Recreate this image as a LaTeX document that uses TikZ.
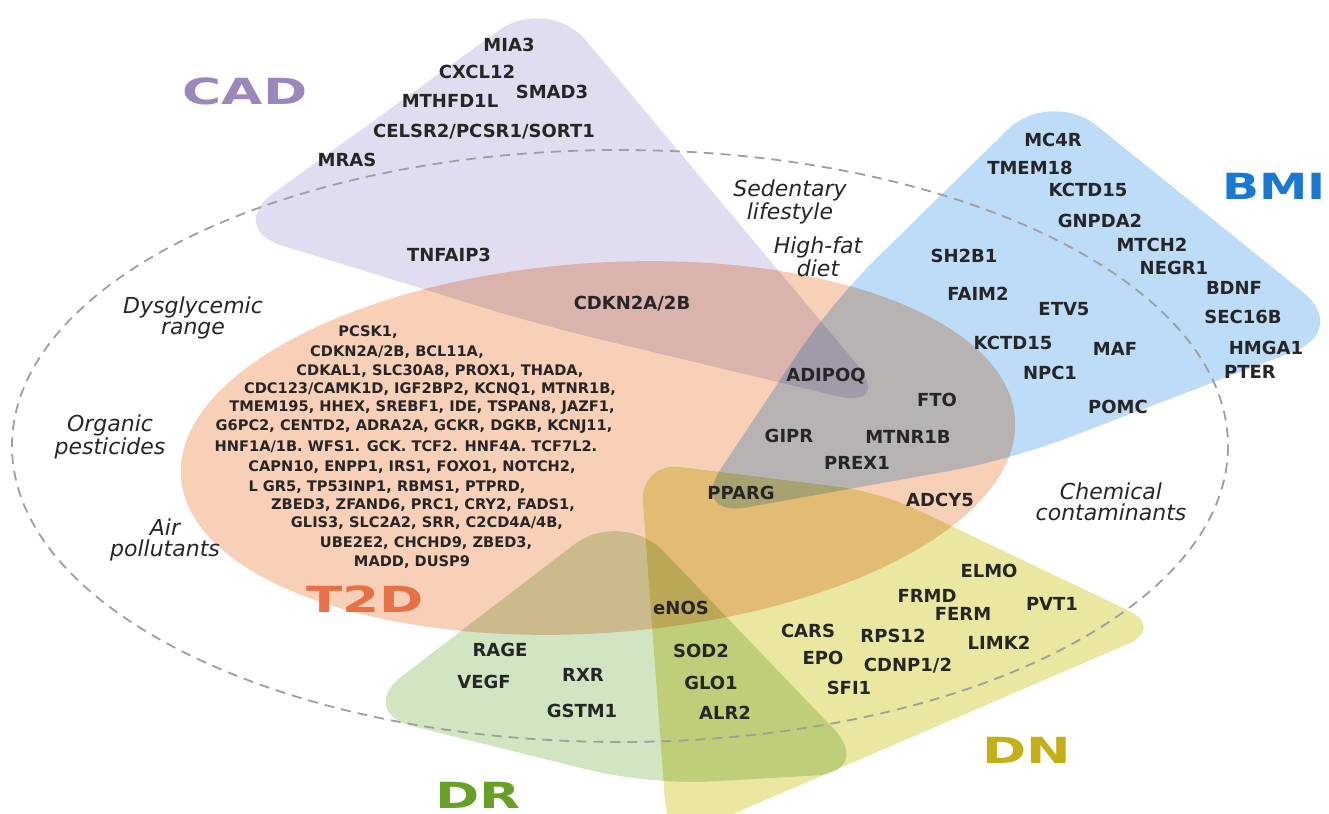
\documentclass[tikz,border=0pt]{standalone}
\usepackage{fontspec}
\setmainfont{DejaVu Sans}
\usepackage{graphicx}

\definecolor{cadfill}{RGB}{226,220,241}
\definecolor{bmifill}{RGB}{188,220,247}
\definecolor{t2dfill}{RGB}{248,208,184}
\definecolor{dnfill}{RGB}{234,231,160}
\definecolor{drfill}{RGB}{209,229,194}
\definecolor{cadtext}{RGB}{155,135,188}
\definecolor{bmitext}{RGB}{25,120,210}
\definecolor{t2dtext}{RGB}{232,112,70}
\definecolor{dntext}{RGB}{196,176,22}
\definecolor{drtext}{RGB}{102,160,38}

\newcommand{\wide}[1]{\scalebox{1.48}[1]{#1}}

\begin{document}
\begin{tikzpicture}[x=0.5pt,y=-0.5pt,
    gene/.style={font=\bfseries\fontsize{9}{10}\selectfont, text=black!85, inner sep=0pt},
    genelist/.style={font=\bfseries\fontsize{7.3}{9}\selectfont, text=black!85, inner sep=0pt},
    factor/.style={font=\itshape\fontsize{11}{10.5}\selectfont, align=center, text=black!85, inner sep=0pt},
    disease/.style={font=\bfseries\fontsize{18}{18}\selectfont, inner sep=0pt},
    boundary/.style={dash pattern=on 5pt off 3.5pt, line width=0.9pt, gray!75}]

  \useasboundingbox (0,0) rectangle (1329,814);

  % the five disease regions
  \begin{scope}[blend group=multiply]
    \fill[cadfill, rounded corners=30pt] (540,325) -- (895,410) -- (548,-5) -- (225,228) -- cycle;
    \fill[bmifill, rounded corners=30pt] (1010,460) -- (688,518) -- (832,302) -- (1050,88) -- (1350,330) -- cycle;
    \fill[t2dfill, rotate around={4:(598,448)}] (598,448) ellipse [x radius=418, y radius=185];
    \fill[dnfill, rounded corners=20pt] (880,492) -- (1165,628) -- (668,842) -- (640,462) -- cycle;
    \fill[drfill, rounded corners=30pt] (650,785) -- (355,712) -- (622,508) -- (875,772) -- cycle;
  \end{scope}

  \draw[boundary] (620,446) ellipse [x radius=608, y radius=296];

  % CAD
  \node[gene] (mia3) at (509,45) {MIA3};
  \node[gene] (cxcl12) at (477,72) {CXCL12};
  \node[gene] (smad3) at (552,92) {SMAD3};
  \node[gene] (mthfd1l) at (450,101) {MTHFD1L};
  \node[gene] (celsr2) at (484,132) {CELSR2/PCSR1/SORT1};
  \node[gene] (mras) at (347,160) {MRAS};
  \node[gene] (tnfaip3) at (449,255) {TNFAIP3};
  \node[gene] (cdkn2b) at (632,304) {CDKN2A/2B};

  % shared by T2D and BMI
  \node[gene] (adipoq) at (826,376) {ADIPOQ};
  \node[gene] (fto) at (937,400) {FTO};
  \node[gene] (gipr) at (789,436) {GIPR};
  \node[gene] (mtnr1b) at (908,437) {MTNR1B};
  \node[gene] (prex1) at (857,463) {PREX1};
  \node[gene] (pparg) at (741,493) {PPARG};
  \node[gene] (adcy5) at (940,500) {ADCY5};

  % BMI
  \node[gene] (mc4r) at (1053,140) {MC4R};
  \node[gene] (tmem18) at (1030,168) {TMEM18};
  \node[gene] (kctd15a) at (1088,190) {KCTD15};
  \node[gene] (gnpda2) at (1100,221) {GNPDA2};
  \node[gene] (mtch2) at (1152,245) {MTCH2};
  \node[gene] (negr1) at (1174,268) {NEGR1};
  \node[gene] (bdnf) at (1234,288) {BDNF};
  \node[gene] (sec16b) at (1243,317) {SEC16B};
  \node[gene] (hmga1) at (1266,348) {HMGA1};
  \node[gene] (pter) at (1250,372) {PTER};
  \node[gene] (sh2b1) at (964,256) {SH2B1};
  \node[gene] (faim2) at (978,294) {FAIM2};
  \node[gene] (etv5) at (1064,309) {ETV5};
  \node[gene] (kctd15b) at (1013,343) {KCTD15};
  \node[gene] (maf) at (1115,349) {MAF};
  \node[gene] (npc1) at (1050,373) {NPC1};
  \node[gene] (pomc) at (1118,407) {POMC};

  % T2D
  \foreach \x/\y/\txt [count=\i] in {368/332/{PCSK1,},
      397/352/{CDKN2A/2B, BCL11A,},
      440/371/{CDKAL1, SLC30A8, PROX1, THADA,},
      430/389/{CDC123/CAMK1D, IGF2BP2, KCNQ1, MTNR1B,},
      422/408/{TMEM195, HHEX, SREBF1, IDE, TSPAN8, JAZF1,},
      414/427/{G6PC2, CENTD2, ADRA2A, GCKR, DGKB, KCNJ11,},
      406/447/{HNF1A/1B. WFS1. GCK. TCF2. HNF4A. TCF7L2.},
      412/467/{CAPN10, ENPP1, IRS1, FOXO1, NOTCH2,},
      387/487/{L GR5, TP53INP1, RBMS1, PTPRD,},
      423/505/{ZBED3, ZFAND6, PRC1, CRY2, FADS1,},
      427/523/{GLIS3, SLC2A2, SRR, C2CD4A/4B,},
      426/543/{UBE2E2, CHCHD9, ZBED3,},
      412/562/{MADD, DUSP9}}
    \node[genelist] (t2d-\i) at (\x,\y) {\txt};

  % DN and DR
  \node[gene] (elmo) at (989,571) {ELMO};
  \node[gene] (frmd) at (927,596) {FRMD};
  \node[gene] (ferm) at (963,614) {FERM};
  \node[gene] (pvt1) at (1052,604) {PVT1};
  \node[gene] (rps12) at (893,636) {RPS12};
  \node[gene] (limk2) at (999,643) {LIMK2};
  \node[gene] (cdnp) at (908,666) {CDNP1/2};
  \node[gene] (sfi1) at (849,688) {SFI1};
  \node[gene] (cars) at (808,631) {CARS};
  \node[gene] (epo) at (823,658) {EPO};
  \node[gene] (enos) at (681,608) {eNOS};
  \node[gene] (sod2) at (701,651) {SOD2};
  \node[gene] (glo1) at (711,683) {GLO1};
  \node[gene] (alr2) at (725,713) {ALR2};
  \node[gene] (rage) at (500,650) {RAGE};
  \node[gene] (vegf) at (484,682) {VEGF};
  \node[gene] (rxr) at (583,675) {RXR};
  \node[gene] (gstm1) at (582,711) {GSTM1};

  % environmental factors
  \node[factor] (sedentary) at (790,202) {Sedentary\\lifestyle};
  \node[factor] (highfat) at (818,257) {High-fat\\diet};
  \node[factor] (dysglycemic) at (193,318) {Dysglycemic\\range};
  \node[factor] (organic) at (110,437) {Organic\\pesticides};
  \node[factor] (air) at (165,540) {Air\\pollutants};
  \node[factor] (chemical) at (1111,502) {Chemical\\contaminants};

  % disease labels
  \node[disease, text=cadtext] (cad) at (245,91) {\wide{CAD}};
  \node[disease, text=bmitext, anchor=west] (bmi) at (1222,186) {\scalebox{1.35}[1]{BMI}};
  \node[disease, text=t2dtext] (t2d) at (365,599) {\wide{T2D}};
  \node[disease, text=dntext] (dn) at (1027,750) {\wide{DN}};
  \node[disease, text=drtext] (dr) at (478,795) {\wide{DR}};
\end{tikzpicture}
\end{document}
